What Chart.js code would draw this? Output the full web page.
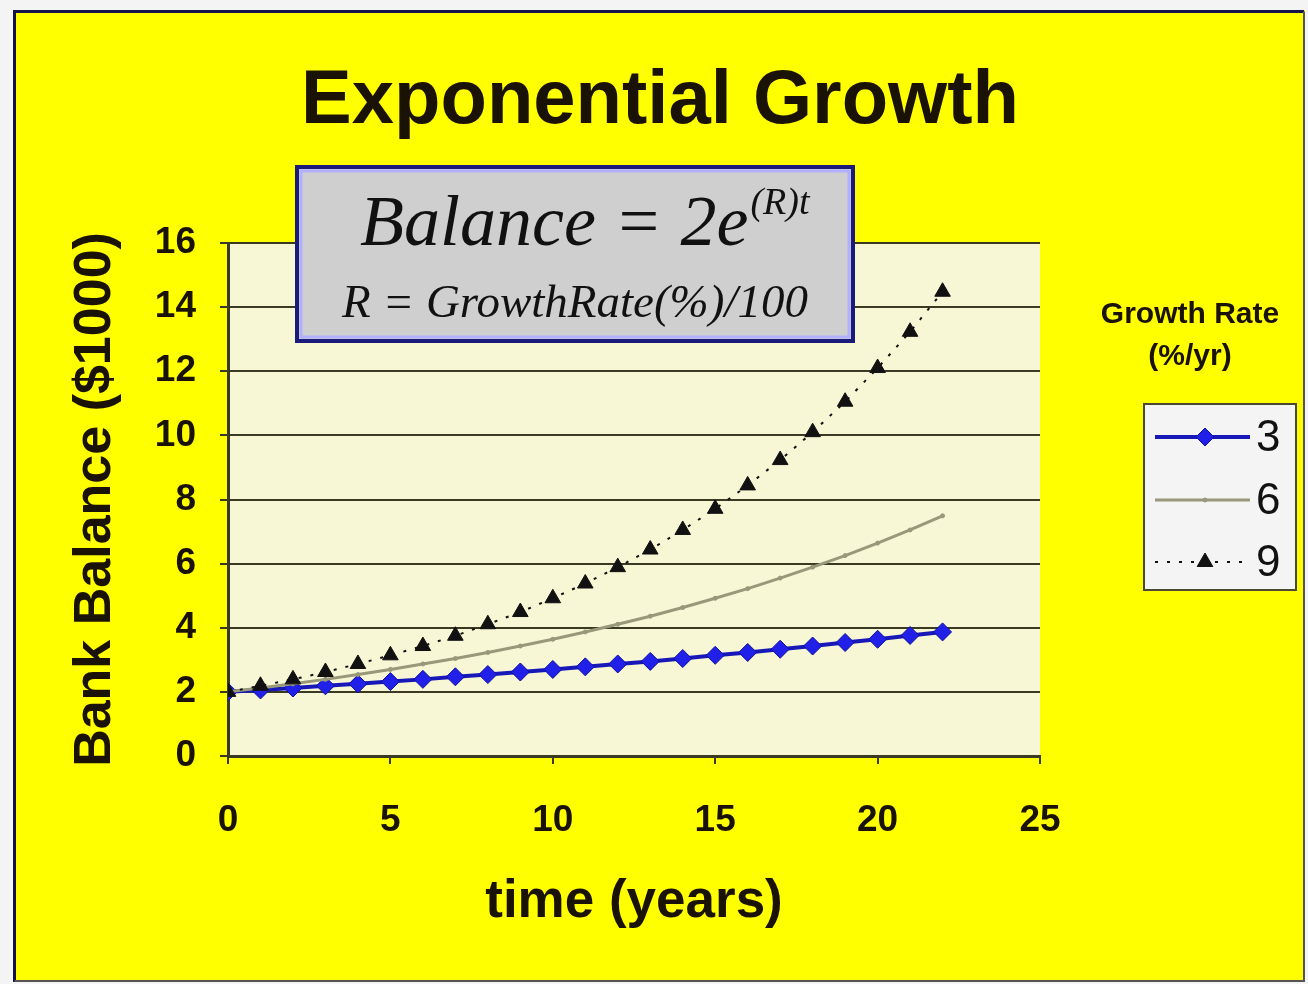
<!DOCTYPE html>
<html>
<head>
<meta charset="utf-8">
<script src="https://cdn.jsdelivr.net/npm/chart.js@4/dist/chart.umd.min.js"></script>
<style>
html,body{margin:0;padding:0;background:#fff;}
#wrap{position:relative;width:1308px;height:984px;}
</style>
</head>
<body>
<div id="wrap"><canvas id="c" width="1308" height="984"></canvas></div>
<script>
const years = [0,1,2,3,4,5,6,7,8,9,10,11,12,13,14,15,16,17,18,19,20,21,22];
const rate3 = [2.00,2.06,2.12,2.19,2.25,2.32,2.39,2.47,2.54,2.62,2.70,2.78,2.87,2.95,3.04,3.14,3.23,3.33,3.43,3.54,3.64,3.76,3.87];
const rate6 = [2.00,2.12,2.25,2.39,2.54,2.70,2.87,3.04,3.23,3.43,3.64,3.87,4.11,4.36,4.63,4.92,5.22,5.55,5.89,6.25,6.64,7.05,7.49];
const rate9 = [2.00,2.19,2.39,2.62,2.87,3.14,3.43,3.75,4.11,4.49,4.92,5.38,5.89,6.44,7.05,7.71,8.44,9.23,10.10,11.05,12.10,13.23,14.48];
const seriesLabels = ['3','6','9'];
const chartTitle = 'Exponential Growth';
const xTitle = 'time (years)';
const yTitle = 'Bank Balance ($1000)';
const legendTitle = ['Growth Rate','(%/yr)'];
const formulaMain = 'Balance = 2e';
const formulaSup = '(R)t';
const formulaSub = 'R = GrowthRate(%)/100';

const pts = arr => years.map((x,i)=>({x:x,y:arr[i]}));
const TEXT = '#1a1205';
const GRID = '#3a3a22';

const decor = {
  id:'decor',
  beforeDraw(chart){
    const ctx = chart.ctx, a = chart.chartArea;
    ctx.save();
    ctx.fillStyle = '#f4f4f4';
    ctx.fillRect(0,0,1308,984);
    ctx.fillStyle = '#ffff00';
    ctx.fillRect(13,10,1292,972);
    ctx.strokeStyle = '#14144a';
    ctx.lineWidth = 3;
    ctx.beginPath();
    ctx.moveTo(14.5,982); ctx.lineTo(14.5,11.5); ctx.lineTo(1304,11.5);
    ctx.stroke();
    ctx.strokeStyle = '#555555';
    ctx.lineWidth = 2;
    ctx.beginPath();
    ctx.moveTo(1304,11.5); ctx.lineTo(1304,981); ctx.lineTo(14.5,981);
    ctx.stroke();
    ctx.fillStyle = '#f7f7d6';
    ctx.fillRect(a.left,a.top,a.right-a.left,a.bottom-a.top);
    ctx.restore();
  },
  afterDraw(chart){
    const ctx = chart.ctx;
    ctx.save();
    // title
    ctx.fillStyle = TEXT;
    ctx.font = 'bold 76px "Liberation Sans", Arial, sans-serif';
    ctx.textAlign = 'center';
    ctx.textBaseline = 'alphabetic';
    ctx.fillText(chartTitle, 660, 123);

    // formula box
    ctx.fillStyle = '#cfcfcf';
    ctx.fillRect(296,166,558,176);
    ctx.strokeStyle = '#b0b0ff';
    ctx.lineWidth = 3;
    ctx.strokeRect(301,171,548,166);
    ctx.strokeStyle = '#1a1a7a';
    ctx.lineWidth = 4;
    ctx.strokeRect(297,167,556,174);
    ctx.fillStyle = '#111';
    ctx.textAlign = 'left';
    ctx.font = 'italic 72px "Liberation Serif", "Times New Roman", serif';
    ctx.fillText(formulaMain, 360, 245);
    const w = ctx.measureText(formulaMain).width;
    ctx.font = 'italic 38px "Liberation Serif", "Times New Roman", serif';
    ctx.fillText(formulaSup, 360 + w + 2, 214);
    ctx.font = 'italic 47px "Liberation Serif", "Times New Roman", serif';
    ctx.fillText(formulaSub, 342, 317);

    // legend title
    ctx.fillStyle = TEXT;
    ctx.textAlign = 'center';
    ctx.font = 'bold 30px "Liberation Sans", Arial, sans-serif';
    ctx.fillText(legendTitle[0], 1190, 323);
    ctx.fillText(legendTitle[1], 1190, 365);

    // legend box
    ctx.fillStyle = '#f4f4f4';
    ctx.fillRect(1144,404,152,186);
    ctx.strokeStyle = '#4a4a30';
    ctx.lineWidth = 2;
    ctx.strokeRect(1144,404,152,186);
    const rows = [437,500,562];
    seriesLabels.forEach((lab,i)=>{
      const ds = chart.data.datasets.find(d=>d.label===lab);
      const y = rows[i];
      ctx.save();
      ctx.strokeStyle = ds.borderColor;
      ctx.lineWidth = ds.borderWidth;
      ctx.setLineDash(ds.borderDash || []);
      ctx.beginPath(); ctx.moveTo(1155,y); ctx.lineTo(1250,y); ctx.stroke();
      ctx.restore();
      ctx.save();
      ctx.fillStyle = ds.pointBackgroundColor;
      ctx.strokeStyle = ds.pointBorderColor;
      ctx.lineWidth = 1;
      Chart.helpers.drawPoint(ctx,{pointStyle:ds.pointStyle,radius:ds.pointRadius,borderWidth:1,rotation:0},1205,y);
      ctx.restore();
      ctx.fillStyle = '#111';
      ctx.textAlign = 'left';
      ctx.textBaseline = 'middle';
      ctx.font = '44px "Liberation Sans", Arial, sans-serif';
      ctx.fillText(ds.label, 1256, y+2);
    });
    ctx.restore();
  }
};

new Chart(document.getElementById('c'), {
  type:'scatter',
  data:{
    datasets:[
      {label:seriesLabels[2], data:pts(rate9), showLine:true, borderColor:'#111111', borderWidth:2, borderDash:[3,9],
       pointStyle:'triangle', pointRadius:9, pointBackgroundColor:'#111111', pointBorderColor:'#111111', pointBorderWidth:1},
      {label:seriesLabels[1], data:pts(rate6), showLine:true, borderColor:'#98987a', borderWidth:3,
       pointStyle:'circle', pointRadius:2, pointBackgroundColor:'#98987a', pointBorderColor:'#98987a', pointBorderWidth:1},
      {label:seriesLabels[0], data:pts(rate3), showLine:true, borderColor:'#1818b8', borderWidth:4,
       pointStyle:'rectRot', pointRadius:9, pointBackgroundColor:'#2020e8', pointBorderColor:'#10109a', pointBorderWidth:1}
    ]
  },
  options:{
    responsive:false,
    animation:false,
    devicePixelRatio:1,
    layout:{padding:{left:0,top:243,right:268,bottom:0}},
    plugins:{legend:{display:false},tooltip:{enabled:false},title:{display:false}},
    scales:{
      x:{type:'linear', min:0, max:25,
        afterFit(s){ s.height = 228; },
        ticks:{stepSize:5, color:TEXT, padding:35, font:{family:'"Liberation Sans", Arial, sans-serif', size:37, weight:'bold'}},
        grid:{drawOnChartArea:false, color:GRID, lineWidth:2, tickLength:8},
        border:{display:true, color:GRID, width:3},
        title:{display:true, text:xTitle, color:TEXT, padding:{top:0,bottom:50}, font:{family:'"Liberation Sans", Arial, sans-serif', size:53, weight:'bold'}}
      },
      y:{type:'linear', min:0, max:16,
        afterFit(s){ s.width = 228; },
        ticks:{stepSize:2, color:TEXT, padding:24, font:{family:'"Liberation Sans", Arial, sans-serif', size:37, weight:'bold'}},
        grid:{color:GRID, lineWidth:2, tickLength:8},
        border:{display:true, color:GRID, width:3},
        title:{display:true, text:yTitle, color:TEXT, padding:{top:64,bottom:0}, font:{family:'"Liberation Sans", Arial, sans-serif', size:52, weight:'bold'}}
      }
    }
  },
  plugins:[decor]
});
</script>
</body>
</html>
